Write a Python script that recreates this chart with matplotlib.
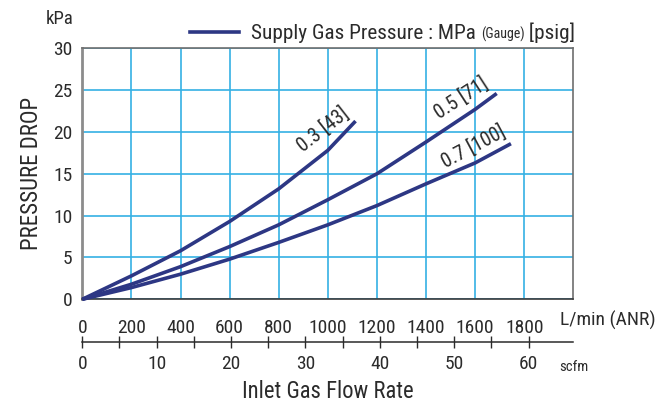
import numpy as np
import matplotlib

matplotlib.use('Agg')
import matplotlib.pyplot as plt
from matplotlib import font_manager
from matplotlib.lines import Line2D

TEXT = '#2b2b2b'
NAVY = '#2d3784'
GRID = '#35b0e4'

# pressure drop curves, flow in L/min (ANR), drop in kPa
flow_03 = [0, 200, 400, 600, 800, 1000, 1113]
drop_03 = [0, 2.8, 5.8, 9.3, 13.2, 17.8, 21.3]

flow_05 = [0, 200, 400, 600, 800, 1000, 1200, 1400, 1600, 1688]
drop_05 = [0, 1.8, 3.9, 6.3, 8.9, 11.9, 15.0, 18.8, 22.7, 24.6]

flow_07 = [0, 200, 400, 600, 800, 1000, 1200, 1400, 1600, 1746]
drop_07 = [0, 1.4, 3.0, 4.8, 6.8, 8.9, 11.2, 13.8, 16.3, 18.6]

curve_labels = ["0.3 [43]", "0.5 [71]", "0.7 [100]"]
label_pos = [(980, 20.3), (1545, 24.0), (1595, 18.25)]
label_rot = [38, 33, 28]

flow_ticks = list(range(0, 1801, 200))
drop_ticks = list(range(0, 31, 5))
scfm_ticks = list(range(0, 61, 5))
LPM_PER_SCFM = 30.3


def pick_narrow_font():
    # prefer a condensed sans, fall back to an Arial-like one
    fonts = font_manager.fontManager.ttflist
    narrow = [f for f in fonts if f.stretch in ('condensed', 'semi-condensed', 'extra-condensed')
              and f.style == 'normal' and f.weight in (400, 'normal', 'regular')]
    for fam in ['Liberation Sans Narrow', 'Roboto Condensed', 'Roboto', 'Noto Sans Condensed',
                'Noto Sans', 'Open Sans Condensed', 'Open Sans']:
        for f in narrow:
            if f.name == fam:
                return f.name, f.stretch, 1.0
    names = {f.name for f in fonts}
    for fam in ['Liberation Sans Narrow', 'Roboto Condensed']:
        if fam in names:
            return fam, 'normal', 1.0
    return 'Liberation Sans', 'normal', 0.88


FAMILY, STRETCH, SCALE = pick_narrow_font()
plt.rcParams['font.family'] = [FAMILY, 'DejaVu Sans']
plt.rcParams['font.stretch'] = STRETCH

W, H = 655, 407
fig = plt.figure(figsize=(W / 100, H / 100), dpi=100)
ax = fig.add_axes([82.3 / W, (H - 299.3) / H, (573.3 - 82.3) / W, (299.3 - 48.3) / H])

fs = 14 * SCALE

ax.set_xlim(0, 2000)
ax.set_ylim(0, 30)
ax.set_xticks(flow_ticks)
ax.set_yticks(drop_ticks)
ax.tick_params(axis='both', length=0, labelsize=fs, colors=TEXT)
ax.tick_params(axis='x', pad=14)
ax.tick_params(axis='y', pad=7)
ax.grid(True, color=GRID, linewidth=1.2)
ax.set_axisbelow(True)

for side in ['top', 'right']:
    ax.spines[side].set_color('#6e6e6e')
    ax.spines[side].set_linewidth(1.2)
ax.spines['left'].set_color('#8c8c8c')
ax.spines['left'].set_linewidth(2)
ax.spines['bottom'].set_color('#3a3a3a')
ax.spines['bottom'].set_linewidth(1.2)

for fl, dr in [(flow_03, drop_03), (flow_05, drop_05), (flow_07, drop_07)]:
    ax.plot(fl, dr, color=NAVY, linewidth=2.6, solid_capstyle='butt', solid_joinstyle='round',
            clip_on=False, zorder=3)

for txt, (lx, ly), rot in zip(curve_labels, label_pos, label_rot):
    ax.text(lx, ly, txt, rotation=rot, rotation_mode='anchor', ha='center', va='center',
            fontsize=fs + 0.5, color=TEXT)

# second flow scale in scfm under the L/min axis
sec = ax.secondary_xaxis(-0.1715, functions=(lambda v: v / LPM_PER_SCFM, lambda v: v * LPM_PER_SCFM))
sec.set_xticks(scfm_ticks, labels=[str(t) if t % 10 == 0 else '' for t in scfm_ticks])
sec.tick_params(direction='inout', length=8.5, width=1, pad=5, labelsize=fs, colors=TEXT)
sec.spines['bottom'].set_color(TEXT)
sec.spines['bottom'].set_linewidth(1.1)

fig.text(560 / W, 1 - 320.7 / H, "L/min (ANR)", fontsize=fs, color=TEXT, va='center', ha='left')
fig.text(559 / W, 1 - 367 / H, "scfm", fontsize=10.5 * SCALE, color=TEXT, va='center', ha='left')
fig.text(328 / W, 1 - 391.5 / H, "Inlet Gas Flow Rate", fontsize=16.3 * SCALE, color=TEXT,
         va='center', ha='center')
fig.text(31.7 / W, 1 - 173.5 / H, "PRESSURE DROP", fontsize=16.5 * SCALE, color=TEXT, rotation=90,
         va='center', ha='center')
fig.text(60 / W, 1 - 19 / H, "kPa", fontsize=13.5 * SCALE, color=TEXT, va='center', ha='center')

# legend line and mixed-size caption
fig.add_artist(Line2D([190 / W, 239 / W], [1 - 32 / H, 1 - 32 / H], color=NAVY, linewidth=2.6,
                      transform=fig.transFigure))
base_y = 1 - 39 / H
x = 251 / W
fig.canvas.draw()
renderer = fig.canvas.get_renderer()
for part, size in [("Supply Gas Pressure : MPa ", 15.3), ("(Gauge)", 10), (" [psig]", 15.3)]:
    t = fig.text(x, base_y, part, fontsize=size * SCALE, color=TEXT, va='baseline', ha='left')
    x = t.get_window_extent(renderer).x1 / fig.bbox.width

fig.savefig('out.png', dpi=100)
